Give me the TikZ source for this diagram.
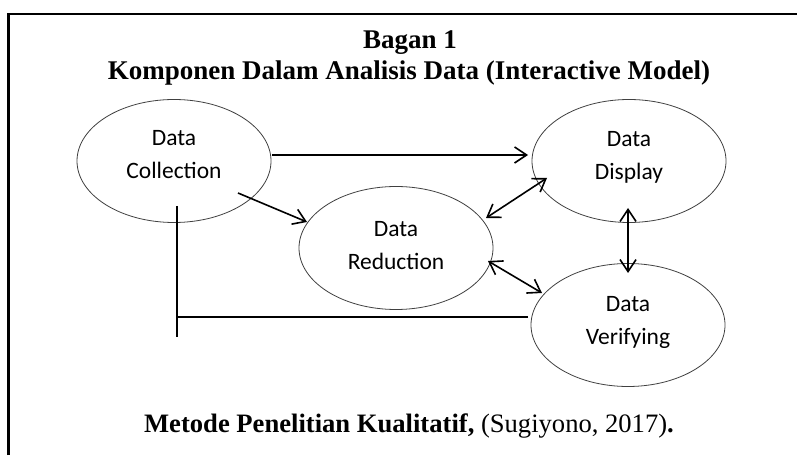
\documentclass[tikz,border=0pt]{standalone}
\usepackage{fontspec}
\setmainfont{Liberation Serif}
\newfontfamily\calib{Carlito}
\usetikzlibrary{arrows.meta,shapes.geometric}
\begin{document}
\begin{tikzpicture}[x=1pt,y=1pt,
  bubble/.style={ellipse,draw=black!75,line width=0.8pt,minimum width=194pt,minimum height=123pt,inner sep=0pt},
  lbl/.style={font=\calib\fontsize{23.5}{28}\selectfont,anchor=base,inner sep=0pt},
  ttl/.style={font=\fontsize{27}{32}\selectfont\bfseries,anchor=base,inner sep=0pt},
  ln/.style={line width=1.6pt,black},
  arr/.style={ln,-{Straight Barb[length=12pt,width=16pt,line width=1.6pt]}},
  darr/.style={ln,{Straight Barb[length=12pt,width=16pt,line width=1.6pt]}-{Straight Barb[length=12pt,width=16pt,line width=1.6pt]}}
]
\useasboundingbox (0,0) rectangle (797,455);
% frame
\draw[line width=2.6pt] (8.5,0) -- (8.5,441) -- (797,441);
% titles
\node[ttl] (t1) at (410,406) {Bagan 1};
\node[ttl] (t2) at (409,375) {Komponen Dalam Analisis Data (Interactive Model)};
\node[font=\fontsize{26.6}{30}\selectfont,anchor=base,inner sep=0pt] (cap) at (409,23) {\textbf{Metode Penelitian Kualitatif,} (Sugiyono, 2017)\textbf{.}};
% ellipses
\node[bubble] (col) at (174,294) {};
\node[bubble] (dis) at (629,294) {};
\node[bubble] (ver) at (628,130) {};
\node[bubble] (red) at (396,207) {};
% labels
\node[lbl] (col1) at ([yshift=15pt]col.center) {Data};
\node[lbl] (col2) at ([yshift=-18pt]col.center) {Collection};
\node[lbl] (dis1) at ([yshift=14pt]dis.center) {Data};
\node[lbl] (dis2) at ([yshift=-19pt]dis.center) {Display};
\node[lbl] (ver1) at ([yshift=13pt]ver.center) {Data};
\node[lbl] (ver2) at ([yshift=-20pt]ver.center) {Verifying};
\node[lbl] (red1) at ([yshift=11pt]red.center) {Data};
\node[lbl] (red2) at ([yshift=-22pt]red.center) {Reduction};
% connectors
\draw[arr] ([shift={(98,6)}]col.center) -- ([shift={(-101,6)}]dis.center);
\draw[arr] ([shift={(64,-32)}]col.center) -- ([shift={(-89,26)}]red.center);
\draw[darr] ([shift={(90,30)}]red.center) -- ([shift={(-82,-17)}]dis.center);
\draw[darr] ([shift={(92,-13)}]red.center) -- ([shift={(-86,32)}]ver.center);
\draw[darr] ([shift={(-1,-47)}]dis.center) -- ([shift={(0,52)}]ver.center);
% feedback line
\draw[ln] ([shift={(3,-45)}]col.center) coordinate (fbtop) -- ([shift={(3,-176)}]col.center) coordinate (fbbot);
\draw[ln] ([shift={(-100,8)}]ver.center) coordinate (fbend) -- (fbtop |- fbend);
\end{tikzpicture}
\end{document}
